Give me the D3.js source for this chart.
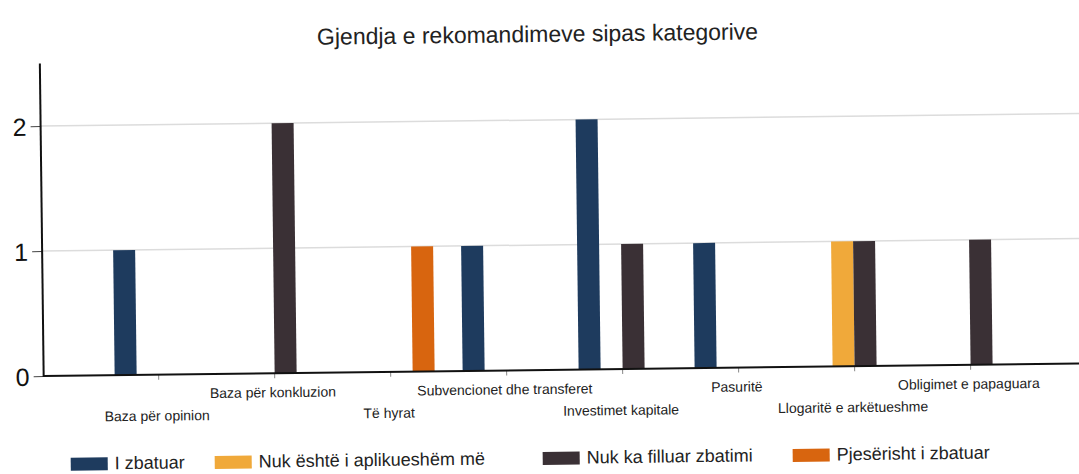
<!DOCTYPE html>
<html><head><meta charset="utf-8">
<script src="https://cdn.jsdelivr.net/npm/d3@7"></script>
<style>html,body{margin:0;padding:0;background:#fff;}svg{display:block;}</style>
</head><body>
<svg id="c" width="1079" height="474"></svg>
<script>
const title = "Gjendja e rekomandimeve sipas kategorive";
const categories = ["Baza për opinion","Baza për konkluzion","Të hyrat","Subvencionet dhe transferet","Investimet kapitale","Pasuritë","Llogaritë e arkëtueshme","Obligimet e papaguara"];
const seriesNames = ["I zbatuar","Nuk është i aplikueshëm më","Nuk ka filluar zbatimi","Pjesërisht i zbatuar"];
const iZbatuar      = [1,0,0,1,2,1,0,0];
const nukEshte      = [0,0,0,0,0,0,1,0];
const nukKaFilluar  = [0,2,0,0,1,0,1,1];
const pjeserisht    = [0,0,1,0,0,0,0,0];
const yTicks = [0,1,2];
const colors = ["#1e3b5e","#f0a93a","#3a3035","#d8650f"];

const seriesValues = [iZbatuar, nukEshte, nukKaFilluar, pjeserisht];
const svg = d3.select("#c");
const g = svg.append("g").attr("transform","rotate(-0.7 540 237)");
const font = "Liberation Sans, Arial, sans-serif";

const x = d3.scaleBand().domain(categories).range([99,1027]).paddingInner(0).paddingOuter(0);
const xs = d3.scaleBand().domain(seriesNames).range([0,x.bandwidth()]).paddingInner(0).paddingOuter(14/22);
const y = d3.scaleLinear().domain([0,2.5]).range([370,57.5]);
const axisX = 42, rightX = 1095;

// title
g.append("text").attr("x",540).attr("y",42).attr("text-anchor","middle")
 .attr("font-family",font).attr("font-size",23).attr("fill","#222").text(title);

// gridlines
g.selectAll("line.grid").data(yTicks.filter(d=>d>0)).join("line")
 .attr("x1",axisX).attr("x2",rightX).attr("y1",d=>y(d)).attr("y2",d=>y(d))
 .attr("stroke","#dcdcdc").attr("stroke-width",1.5);

// bars
const barData = [];
categories.forEach((c,i)=>seriesNames.forEach((s,j)=>{
  if(seriesValues[j][i]>0) barData.push({c,s,v:seriesValues[j][i],col:colors[j]});
}));
g.selectAll("rect.bar").data(barData).join("rect")
 .attr("x",d=>x(d.c)+xs(d.s)).attr("width",xs.bandwidth())
 .attr("y",d=>y(d.v)).attr("height",d=>y(0)-y(d.v)).attr("fill",d=>d.col);

// y axis
const yAxis = d3.axisLeft(y).tickValues(yTicks).tickSize(10).tickFormat(d3.format("d"));
const ya = g.append("g").attr("transform",`translate(${axisX},0)`).call(yAxis);
ya.select(".domain").remove();
ya.selectAll(".tick line").attr("stroke","#444");
ya.selectAll(".tick text").attr("font-family",font).attr("font-size",25).attr("fill","#111")
  .attr("x",-14).attr("dy","0.36em");
g.append("line").attr("x1",axisX).attr("x2",axisX).attr("y1",y(2.5)).attr("y2",y(0)+1)
 .attr("stroke","#111").attr("stroke-width",2);

// x axis
const xAxis = d3.axisBottom(x).tickSize(5).tickFormat("");
const xa = g.append("g").attr("transform",`translate(0,${y(0)})`).call(xAxis);
xa.select(".domain").remove();
xa.selectAll(".tick line").attr("stroke","#888");
g.append("line").attr("x1",axisX).attr("x2",rightX).attr("y1",y(0)).attr("y2",y(0))
 .attr("stroke","#111").attr("stroke-width",2);
g.selectAll("text.xl").data(categories).join("text")
 .attr("x",d=>x(d)+x.bandwidth()/2 - 2).attr("y",(d,i)=> i%2===0 ? 416 : 394)
 .attr("text-anchor","middle").attr("font-family",font).attr("font-size",14).attr("fill","#222").text(d=>d);

// legend
const legX = [68,212,540,790];
const lg = g.selectAll("g.leg").data(seriesNames).join("g").attr("transform",(d,i)=>`translate(${legX[i]},452)`);
lg.append("rect").attr("width",37).attr("height",13).attr("fill",(d,i)=>colors[i]);
lg.append("text").attr("x",44).attr("y",12).attr("font-family",font).attr("font-size",18).attr("fill","#222").text(d=>d);
</script>
</body></html>
